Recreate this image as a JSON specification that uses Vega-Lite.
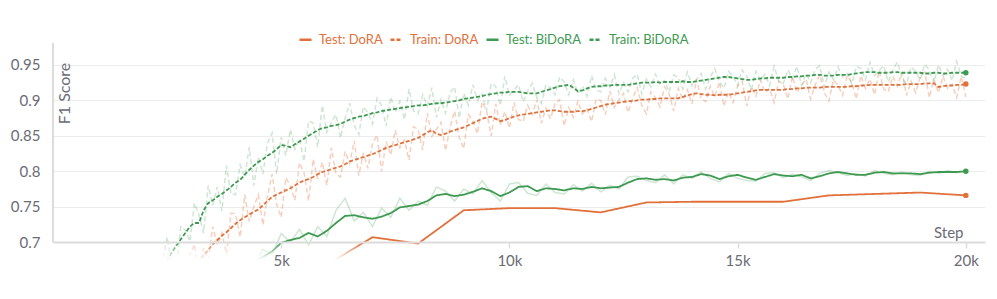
{
"$schema":"https://vega.github.io/schema/vega-lite/v6.json",
"autosize":"none","width":932,"height":219,
"padding":{"left":53,"top":43,"right":12,"bottom":37},
"background":"#ffffff",
"config":{"view":{"stroke":null},"font":"Lato"},
"datasets":{
"train":[
{"step":2200,"sb":0.645,"rb":0.666},
{"step":2300,"sb":0.655,"rb":0.627},
{"step":2400,"sb":0.665,"rb":0.672},
{"step":2500,"sb":0.675,"rb":0.707,"rd":0.622},
{"step":2600,"sb":0.685,"rb":0.671,"sd":0.635,"rd":0.667},
{"step":2700,"sb":0.695,"rb":0.660,"sd":0.645,"rd":0.617},
{"step":2800,"sb":0.704,"rb":0.722,"sd":0.652,"rd":0.659},
{"step":2900,"sb":0.713,"rb":0.717,"sd":0.658,"rd":0.637},
{"step":3000,"sb":0.722,"rb":0.701,"sd":0.664,"rd":0.682},
{"step":3100,"sb":0.727,"rb":0.755,"sd":0.669,"rd":0.697},
{"step":3200,"sb":0.727,"rb":0.738,"sd":0.675,"rd":0.640},
{"step":3300,"sb":0.745,"rb":0.713,"sd":0.681,"rd":0.692},
{"step":3400,"sb":0.755,"rb":0.780,"sd":0.689,"rd":0.675},
{"step":3500,"sb":0.759,"rb":0.752,"sd":0.697,"rd":0.722},
{"step":3600,"sb":0.764,"rb":0.778,"sd":0.703,"rd":0.696},
{"step":3700,"sb":0.768,"rb":0.744,"sd":0.709,"rd":0.713},
{"step":3800,"sb":0.773,"rb":0.808,"sd":0.714,"rd":0.683},
{"step":3900,"sb":0.778,"rb":0.768,"sd":0.720,"rd":0.741},
{"step":4000,"sb":0.784,"rb":0.767,"sd":0.726,"rd":0.740},
{"step":4100,"sb":0.788,"rb":0.809,"sd":0.731,"rd":0.707},
{"step":4200,"sb":0.795,"rb":0.792,"sd":0.735,"rd":0.767},
{"step":4300,"sb":0.802,"rb":0.834,"sd":0.739,"rd":0.729},
{"step":4400,"sb":0.808,"rb":0.780,"sd":0.743,"rd":0.750},
{"step":4500,"sb":0.813,"rb":0.820,"sd":0.746,"rd":0.767},
{"step":4600,"sb":0.817,"rb":0.796,"sd":0.752,"rd":0.724},
{"step":4700,"sb":0.822,"rb":0.840,"sd":0.758,"rd":0.765},
{"step":4800,"sb":0.826,"rb":0.854,"sd":0.764,"rd":0.796},
{"step":4900,"sb":0.831,"rb":0.796,"sd":0.767,"rd":0.753},
{"step":5000,"sb":0.837,"rb":0.848,"sd":0.770,"rd":0.735},
{"step":5100,"sb":0.836,"rb":0.822,"sd":0.773,"rd":0.791},
{"step":5200,"sb":0.834,"rb":0.859,"sd":0.776,"rd":0.780},
{"step":5300,"sb":0.838,"rb":0.831,"sd":0.780,"rd":0.759},
{"step":5400,"sb":0.842,"rb":0.846,"sd":0.784,"rd":0.812},
{"step":5500,"sb":0.846,"rb":0.814,"sd":0.787,"rd":0.798},
{"step":5600,"sb":0.850,"rb":0.871,"sd":0.789,"rd":0.758},
{"step":5700,"sb":0.854,"rb":0.868,"sd":0.792,"rd":0.817},
{"step":5800,"sb":0.858,"rb":0.834,"sd":0.796,"rd":0.789},
{"step":5900,"sb":0.861,"rb":0.893,"sd":0.799,"rd":0.813},
{"step":6000,"sb":0.862,"rb":0.855,"sd":0.801,"rd":0.780},
{"step":6100,"sb":0.864,"rb":0.869,"sd":0.803,"rd":0.833},
{"step":6200,"sb":0.865,"rb":0.880,"sd":0.805,"rd":0.796},
{"step":6300,"sb":0.867,"rb":0.847,"sd":0.807,"rd":0.792},
{"step":6400,"sb":0.870,"rb":0.875,"sd":0.810,"rd":0.828},
{"step":6500,"sb":0.873,"rb":0.896,"sd":0.814,"rd":0.811},
{"step":6600,"sb":0.875,"rb":0.865,"sd":0.816,"rd":0.843},
{"step":6700,"sb":0.877,"rb":0.852,"sd":0.818,"rd":0.794},
{"step":6800,"sb":0.878,"rb":0.891,"sd":0.820,"rd":0.826},
{"step":6900,"sb":0.880,"rb":0.883,"sd":0.822,"rd":0.804},
{"step":7000,"sb":0.882,"rb":0.867,"sd":0.824,"rd":0.839},
{"step":7100,"sb":0.883,"rb":0.903,"sd":0.827,"rd":0.851},
{"step":7200,"sb":0.885,"rb":0.893,"sd":0.830,"rd":0.800},
{"step":7300,"sb":0.886,"rb":0.864,"sd":0.833,"rd":0.842},
{"step":7400,"sb":0.887,"rb":0.905,"sd":0.835,"rd":0.823},
{"step":7500,"sb":0.888,"rb":0.883,"sd":0.837,"rd":0.858},
{"step":7600,"sb":0.889,"rb":0.899,"sd":0.839,"rd":0.833},
{"step":7700,"sb":0.890,"rb":0.873,"sd":0.841,"rd":0.844},
{"step":7800,"sb":0.891,"rb":0.916,"sd":0.843,"rd":0.816},
{"step":7900,"sb":0.892,"rb":0.885,"sd":0.845,"rd":0.863},
{"step":8000,"sb":0.893,"rb":0.881,"sd":0.847,"rd":0.859},
{"step":8100,"sb":0.893,"rb":0.908,"sd":0.851,"rd":0.830},
{"step":8200,"sb":0.894,"rb":0.892,"sd":0.855,"rd":0.882},
{"step":8300,"sb":0.895,"rb":0.918,"sd":0.858,"rd":0.849},
{"step":8400,"sb":0.896,"rb":0.876,"sd":0.853,"rd":0.859},
{"step":8500,"sb":0.896,"rb":0.901,"sd":0.851,"rd":0.869},
{"step":8600,"sb":0.897,"rb":0.882,"sd":0.853,"rd":0.829},
{"step":8700,"sb":0.898,"rb":0.911,"sd":0.856,"rd":0.862},
{"step":8800,"sb":0.899,"rb":0.919,"sd":0.858,"rd":0.885},
{"step":8900,"sb":0.900,"rb":0.875,"sd":0.860,"rd":0.848},
{"step":9000,"sb":0.902,"rb":0.910,"sd":0.862,"rd":0.832},
{"step":9100,"sb":0.903,"rb":0.893,"sd":0.865,"rd":0.880},
{"step":9200,"sb":0.904,"rb":0.922,"sd":0.868,"rd":0.871},
{"step":9300,"sb":0.905,"rb":0.900,"sd":0.871,"rd":0.853},
{"step":9400,"sb":0.906,"rb":0.909,"sd":0.874,"rd":0.898},
{"step":9500,"sb":0.908,"rb":0.886,"sd":0.876,"rd":0.885},
{"step":9600,"sb":0.909,"rb":0.924,"sd":0.877,"rd":0.850},
{"step":9700,"sb":0.910,"rb":0.920,"sd":0.874,"rd":0.895},
{"step":9800,"sb":0.911,"rb":0.893,"sd":0.871,"rd":0.865},
{"step":9900,"sb":0.911,"rb":0.934,"sd":0.872,"rd":0.884},
{"step":10000,"sb":0.912,"rb":0.907,"sd":0.875,"rd":0.861},
{"step":10100,"sb":0.912,"rb":0.915,"sd":0.877,"rd":0.897},
{"step":10200,"sb":0.912,"rb":0.922,"sd":0.879,"rd":0.873},
{"step":10300,"sb":0.911,"rb":0.898,"sd":0.880,"rd":0.870},
{"step":10400,"sb":0.910,"rb":0.913,"sd":0.881,"rd":0.893},
{"step":10500,"sb":0.910,"rb":0.924,"sd":0.882,"rd":0.880},
{"step":10600,"sb":0.910,"rb":0.904,"sd":0.883,"rd":0.901},
{"step":10700,"sb":0.912,"rb":0.896,"sd":0.884,"rd":0.868},
{"step":10800,"sb":0.914,"rb":0.922,"sd":0.885,"rd":0.889},
{"step":10900,"sb":0.916,"rb":0.918,"sd":0.886,"rd":0.874},
{"step":11000,"sb":0.918,"rb":0.908,"sd":0.886,"rd":0.896},
{"step":11100,"sb":0.920,"rb":0.933,"sd":0.885,"rd":0.901},
{"step":11200,"sb":0.921,"rb":0.926,"sd":0.884,"rd":0.864},
{"step":11300,"sb":0.922,"rb":0.908,"sd":0.884,"rd":0.890},
{"step":11400,"sb":0.918,"rb":0.929,"sd":0.884,"rd":0.876},
{"step":11500,"sb":0.913,"rb":0.910,"sd":0.885,"rd":0.899},
{"step":11600,"sb":0.914,"rb":0.920,"sd":0.885,"rd":0.881},
{"step":11700,"sb":0.917,"rb":0.906,"sd":0.886,"rd":0.888},
{"step":11800,"sb":0.919,"rb":0.935,"sd":0.888,"rd":0.870},
{"step":11900,"sb":0.920,"rb":0.915,"sd":0.890,"rd":0.902},
{"step":12000,"sb":0.920,"rb":0.912,"sd":0.892,"rd":0.900},
{"step":12100,"sb":0.921,"rb":0.931,"sd":0.894,"rd":0.880},
{"step":12200,"sb":0.921,"rb":0.919,"sd":0.895,"rd":0.913},
{"step":12300,"sb":0.922,"rb":0.936,"sd":0.896,"rd":0.890},
{"step":12400,"sb":0.922,"rb":0.909,"sd":0.897,"rd":0.901},
{"step":12500,"sb":0.922,"rb":0.925,"sd":0.898,"rd":0.910},
{"step":12600,"sb":0.922,"rb":0.912,"sd":0.899,"rd":0.883},
{"step":12700,"sb":0.923,"rb":0.931,"sd":0.899,"rd":0.903},
{"step":12800,"sb":0.924,"rb":0.937,"sd":0.900,"rd":0.918},
{"step":12900,"sb":0.925,"rb":0.909,"sd":0.901,"rd":0.893},
{"step":13000,"sb":0.925,"rb":0.930,"sd":0.901,"rd":0.881},
{"step":13100,"sb":0.925,"rb":0.919,"sd":0.902,"rd":0.912},
{"step":13200,"sb":0.926,"rb":0.937,"sd":0.902,"rd":0.904},
{"step":13300,"sb":0.925,"rb":0.922,"sd":0.903,"rd":0.891},
{"step":13400,"sb":0.926,"rb":0.928,"sd":0.903,"rd":0.919},
{"step":13500,"sb":0.926,"rb":0.912,"sd":0.903,"rd":0.909},
{"step":13600,"sb":0.926,"rb":0.936,"sd":0.903,"rd":0.885},
{"step":13700,"sb":0.926,"rb":0.932,"sd":0.903,"rd":0.917},
{"step":13800,"sb":0.927,"rb":0.916,"sd":0.905,"rd":0.901},
{"step":13900,"sb":0.926,"rb":0.940,"sd":0.907,"rd":0.915},
{"step":14000,"sb":0.926,"rb":0.921,"sd":0.909,"rd":0.895},
{"step":14100,"sb":0.927,"rb":0.930,"sd":0.910,"rd":0.930},
{"step":14200,"sb":0.928,"rb":0.938,"sd":0.909,"rd":0.903},
{"step":14300,"sb":0.929,"rb":0.916,"sd":0.908,"rd":0.898},
{"step":14400,"sb":0.930,"rb":0.933,"sd":0.908,"rd":0.920},
{"step":14500,"sb":0.931,"rb":0.945,"sd":0.907,"rd":0.905},
{"step":14600,"sb":0.932,"rb":0.926,"sd":0.908,"rd":0.926},
{"step":14700,"sb":0.933,"rb":0.917,"sd":0.908,"rd":0.892},
{"step":14800,"sb":0.933,"rb":0.941,"sd":0.908,"rd":0.912},
{"step":14900,"sb":0.932,"rb":0.934,"sd":0.909,"rd":0.897},
{"step":15000,"sb":0.931,"rb":0.921,"sd":0.910,"rd":0.920},
{"step":15100,"sb":0.930,"rb":0.943,"sd":0.911,"rd":0.927},
{"step":15200,"sb":0.929,"rb":0.934,"sd":0.912,"rd":0.892},
{"step":15300,"sb":0.929,"rb":0.915,"sd":0.913,"rd":0.919},
{"step":15400,"sb":0.930,"rb":0.941,"sd":0.914,"rd":0.906},
{"step":15500,"sb":0.931,"rb":0.928,"sd":0.915,"rd":0.929},
{"step":15600,"sb":0.931,"rb":0.937,"sd":0.915,"rd":0.911},
{"step":15700,"sb":0.932,"rb":0.921,"sd":0.915,"rd":0.917},
{"step":15800,"sb":0.932,"rb":0.948,"sd":0.915,"rd":0.897},
{"step":15900,"sb":0.932,"rb":0.927,"sd":0.915,"rd":0.927},
{"step":16000,"sb":0.932,"rb":0.924,"sd":0.915,"rd":0.923},
{"step":16100,"sb":0.933,"rb":0.943,"sd":0.916,"rd":0.902},
{"step":16200,"sb":0.933,"rb":0.931,"sd":0.916,"rd":0.934},
{"step":16300,"sb":0.934,"rb":0.948,"sd":0.917,"rd":0.911},
{"step":16400,"sb":0.934,"rb":0.921,"sd":0.917,"rd":0.921},
{"step":16500,"sb":0.935,"rb":0.938,"sd":0.918,"rd":0.930},
{"step":16600,"sb":0.935,"rb":0.925,"sd":0.918,"rd":0.902},
{"step":16700,"sb":0.936,"rb":0.944,"sd":0.918,"rd":0.922},
{"step":16800,"sb":0.936,"rb":0.949,"sd":0.918,"rd":0.936},
{"step":16900,"sb":0.935,"rb":0.919,"sd":0.919,"rd":0.911},
{"step":17000,"sb":0.935,"rb":0.940,"sd":0.919,"rd":0.899},
{"step":17100,"sb":0.935,"rb":0.929,"sd":0.919,"rd":0.929},
{"step":17200,"sb":0.936,"rb":0.947,"sd":0.919,"rd":0.921},
{"step":17300,"sb":0.936,"rb":0.933,"sd":0.919,"rd":0.907},
{"step":17400,"sb":0.936,"rb":0.938,"sd":0.919,"rd":0.935},
{"step":17500,"sb":0.937,"rb":0.923,"sd":0.920,"rd":0.926},
{"step":17600,"sb":0.938,"rb":0.948,"sd":0.920,"rd":0.902},
{"step":17700,"sb":0.939,"rb":0.945,"sd":0.921,"rd":0.935},
{"step":17800,"sb":0.940,"rb":0.929,"sd":0.921,"rd":0.917},
{"step":17900,"sb":0.940,"rb":0.954,"sd":0.922,"rd":0.930},
{"step":18000,"sb":0.940,"rb":0.935,"sd":0.922,"rd":0.908},
{"step":18100,"sb":0.939,"rb":0.942,"sd":0.922,"rd":0.942},
{"step":18200,"sb":0.939,"rb":0.949,"sd":0.922,"rd":0.916},
{"step":18300,"sb":0.939,"rb":0.926,"sd":0.922,"rd":0.912},
{"step":18400,"sb":0.940,"rb":0.943,"sd":0.922,"rd":0.934},
{"step":18500,"sb":0.940,"rb":0.954,"sd":0.922,"rd":0.920},
{"step":18600,"sb":0.939,"rb":0.933,"sd":0.922,"rd":0.940},
{"step":18700,"sb":0.939,"rb":0.923,"sd":0.923,"rd":0.907},
{"step":18800,"sb":0.939,"rb":0.947,"sd":0.923,"rd":0.927},
{"step":18900,"sb":0.939,"rb":0.941,"sd":0.923,"rd":0.911},
{"step":19000,"sb":0.939,"rb":0.929,"sd":0.923,"rd":0.933},
{"step":19100,"sb":0.938,"rb":0.951,"sd":0.924,"rd":0.940},
{"step":19200,"sb":0.938,"rb":0.943,"sd":0.924,"rd":0.904},
{"step":19300,"sb":0.939,"rb":0.925,"sd":0.924,"rd":0.930},
{"step":19400,"sb":0.939,"rb":0.950,"sd":0.919,"rd":0.911},
{"step":19500,"sb":0.938,"rb":0.935,"sd":0.920,"rd":0.934},
{"step":19600,"sb":0.938,"rb":0.944,"sd":0.921,"rd":0.917},
{"step":19700,"sb":0.939,"rb":0.928,"sd":0.921,"rd":0.923},
{"step":19800,"sb":0.939,"rb":0.955,"sd":0.922,"rd":0.904},
{"step":19900,"sb":0.939,"rb":0.934,"sd":0.922,"rd":0.934},
{"step":20000,"sb":0.939,"rb":0.931,"sd":0.923,"rd":0.905}
],
"testb":[
{"step":4400,"tb":0.672,"rtb":0.668},{"step":4600,"tb":0.679,"rtb":0.690},{"step":4800,"tb":0.687,"rtb":0.682},
{"step":5000,"tb":0.699,"rtb":0.712},{"step":5200,"tb":0.703,"rtb":0.700},{"step":5400,"tb":0.706,"rtb":0.718},
{"step":5600,"tb":0.713,"rtb":0.696},{"step":5800,"tb":0.708,"rtb":0.722},{"step":6000,"tb":0.716,"rtb":0.708},
{"step":6200,"tb":0.727,"rtb":0.745},{"step":6400,"tb":0.737,"rtb":0.762},{"step":6600,"tb":0.738,"rtb":0.730},
{"step":6800,"tb":0.735,"rtb":0.742},{"step":7000,"tb":0.733,"rtb":0.722},{"step":7200,"tb":0.736,"rtb":0.748},
{"step":7400,"tb":0.741,"rtb":0.735},{"step":7600,"tb":0.749,"rtb":0.762},{"step":7800,"tb":0.751,"rtb":0.745},
{"step":8000,"tb":0.753,"rtb":0.758},{"step":8200,"tb":0.758,"rtb":0.752},{"step":8400,"tb":0.766,"rtb":0.778},
{"step":8600,"tb":0.768,"rtb":0.772},{"step":8800,"tb":0.765,"rtb":0.758},{"step":9000,"tb":0.767,"rtb":0.775},
{"step":9200,"tb":0.771,"rtb":0.768},{"step":9400,"tb":0.776,"rtb":0.787},{"step":9600,"tb":0.772,"rtb":0.770},
{"step":9800,"tb":0.765,"rtb":0.758},{"step":10000,"tb":0.770,"rtb":0.782},{"step":10200,"tb":0.778,"rtb":0.784},
{"step":10400,"tb":0.779,"rtb":0.769},{"step":10600,"tb":0.772,"rtb":0.766},{"step":10800,"tb":0.776,"rtb":0.782},
{"step":11000,"tb":0.775,"rtb":0.770},{"step":11200,"tb":0.773,"rtb":0.768},{"step":11400,"tb":0.776,"rtb":0.781},
{"step":11600,"tb":0.775,"rtb":0.772},{"step":11800,"tb":0.778,"rtb":0.783},{"step":12000,"tb":0.776,"rtb":0.771},
{"step":12200,"tb":0.777,"rtb":0.780},{"step":12400,"tb":0.778,"rtb":0.775},{"step":12600,"tb":0.784,"rtb":0.792},
{"step":12800,"tb":0.789,"rtb":0.793},{"step":13000,"tb":0.790,"rtb":0.787},{"step":13200,"tb":0.788,"rtb":0.784},
{"step":13400,"tb":0.789,"rtb":0.795},{"step":13600,"tb":0.787,"rtb":0.782},{"step":13800,"tb":0.791,"rtb":0.795},
{"step":14000,"tb":0.792,"rtb":0.790},{"step":14200,"tb":0.796,"rtb":0.799},{"step":14400,"tb":0.794,"rtb":0.790},
{"step":14600,"tb":0.789,"rtb":0.785},{"step":14800,"tb":0.793,"rtb":0.797},{"step":15000,"tb":0.795,"rtb":0.790},
{"step":15200,"tb":0.791,"rtb":0.787},{"step":15400,"tb":0.788,"rtb":0.786},{"step":15600,"tb":0.792,"rtb":0.797},
{"step":15800,"tb":0.796,"rtb":0.798},{"step":16000,"tb":0.794,"rtb":0.791},{"step":16200,"tb":0.793,"rtb":0.796},
{"step":16400,"tb":0.795,"rtb":0.792},{"step":16600,"tb":0.790,"rtb":0.787},{"step":16800,"tb":0.793,"rtb":0.797},
{"step":17000,"tb":0.797,"rtb":0.801},{"step":17200,"tb":0.799,"rtb":0.798},{"step":17400,"tb":0.797,"rtb":0.794},
{"step":17600,"tb":0.795,"rtb":0.797},{"step":17800,"tb":0.795,"rtb":0.793},{"step":18000,"tb":0.798,"rtb":0.801},
{"step":18200,"tb":0.799,"rtb":0.797},{"step":18400,"tb":0.797,"rtb":0.795},{"step":18600,"tb":0.797,"rtb":0.799},
{"step":18800,"tb":0.797,"rtb":0.795},{"step":19000,"tb":0.796,"rtb":0.794},{"step":19200,"tb":0.798,"rtb":0.800},
{"step":19400,"tb":0.799,"rtb":0.797},{"step":19600,"tb":0.799,"rtb":0.801},{"step":19800,"tb":0.799,"rtb":0.798},
{"step":20000,"tb":0.800,"rtb":0.800}
],
"testd":[
{"step":5000,"td":0.62},{"step":6000,"td":0.668},{"step":7000,"td":0.707},{"step":8000,"td":0.698},
{"step":9000,"td":0.745},{"step":10000,"td":0.748},{"step":11000,"td":0.748},{"step":12000,"td":0.742},
{"step":13000,"td":0.756},{"step":14000,"td":0.757},{"step":15000,"td":0.757},{"step":16000,"td":0.757},
{"step":17000,"td":0.766},{"step":18000,"td":0.768},{"step":19000,"td":0.770},{"step":20000,"td":0.766}
]
},
"layer":[
{"data":{"name":"train"},"mark":{"type":"line","clip":true,"color":"#e2703a","opacity":0.33,"strokeWidth":1.5,"strokeDash":[5,3]},
 "encoding":{"x":{"field":"step","type":"quantitative","scale":{"domain":[0,20420],"nice":false},
   "axis":{"orient":"bottom","offset":-20,"values":[5000,10000,15000,20000],"format":"~s","grid":false,"domainColor":"#dcdcdc","domainWidth":2,"tickColor":"#dcdcdc","tickSize":6,"tickWidth":1.5,"labelPadding":5,"labelFontSize":15,"labelColor":"#6b6b76","title":"Step","titleFontSize":15,"titleFontWeight":"normal","titleColor":"#6b6b76","titleAlign":"right","titleBaseline":"middle","titleX":910,"titleY":-10,"zindex":1}},
   "y":{"field":"rd","type":"quantitative","scale":{"domain":[0.672,0.981],"nice":false,"zero":false},
   "axis":{"values":[0.7,0.75,0.8,0.85,0.9,0.95],"format":"~g","grid":true,"gridColor":"#ececec","gridWidth":1,"domain":false,"ticks":false,"labelPadding":13,"labelFontSize":15,"labelColor":"#6b6b76","title":"F1 Score","titleFontSize":16,"titleFontWeight":"normal","titleColor":"#6b6b76","titleAngle":-90,"titleAlign":"center","titleBaseline":"middle","titleX":11,"titleY":50}}}},
{"data":{"name":"train"},"mark":{"type":"line","clip":true,"color":"#3d9a50","opacity":0.25,"strokeWidth":1.5,"strokeDash":[5,3]},
 "encoding":{"x":{"field":"step","type":"quantitative"},"y":{"field":"rb","type":"quantitative"}}},
{"data":{"name":"testb"},"mark":{"type":"line","clip":true,"color":"#3d9a50","opacity":0.25,"strokeWidth":1.5},
 "encoding":{"x":{"field":"step","type":"quantitative"},"y":{"field":"rtb","type":"quantitative"}}},
{"data":{"name":"train"},"transform":[{"fold":["sd","sb"],"as":["k","v"]}],
 "layer":[
  {"mark":{"type":"line","clip":true,"strokeWidth":1.8},
   "encoding":{"x":{"field":"step","type":"quantitative"},"y":{"field":"v","type":"quantitative"},
    "color":{"field":"k","type":"nominal","scale":{"domain":["td","sd","tb","sb"],"range":["#e2703a","#e2703a","#3d9a50","#3d9a50"]},
     "legend":{"orient":"none","legendX":245,"legendY":-11,"direction":"horizontal","title":null,"symbolType":"stroke","symbolSize":144,"symbolStrokeWidth":2.5,"labelFontSize":13,"labelOffset":6,"columnPadding":2,"padding":0,
      "labelExpr":"datum.label == 'td' ? 'Test: DoRA' : datum.label == 'sd' ? 'Train: DoRA' : datum.label == 'tb' ? 'Test: BiDoRA' : 'Train: BiDoRA'",
      "encode":{"labels":{"update":{"fill":{"scale":"color","field":"value"}}}}}},
    "strokeDash":{"field":"k","type":"nominal","scale":{"domain":["td","sd","tb","sb"],"range":[[1,0],[4,2],[1,0],[4,2]]}}}},
  {"transform":[{"filter":"datum.step == 20000"}],"mark":{"type":"point","filled":true,"size":30,"opacity":1},
   "encoding":{"x":{"field":"step","type":"quantitative"},"y":{"field":"v","type":"quantitative"},"color":{"field":"k","type":"nominal"}}}
 ]},
{"data":{"name":"testb"},"transform":[{"fold":["tb"],"as":["k","v"]}],
 "layer":[
  {"mark":{"type":"line","clip":true,"strokeWidth":1.8},
   "encoding":{"x":{"field":"step","type":"quantitative"},"y":{"field":"v","type":"quantitative"},"color":{"field":"k","type":"nominal"},"strokeDash":{"field":"k","type":"nominal"}}},
  {"transform":[{"filter":"datum.step == 20000"}],"mark":{"type":"point","filled":true,"size":30,"opacity":1},
   "encoding":{"x":{"field":"step","type":"quantitative"},"y":{"field":"v","type":"quantitative"},"color":{"field":"k","type":"nominal"}}}
 ]},
{"data":{"name":"testd"},"transform":[{"fold":["td"],"as":["k","v"]}],
 "layer":[
  {"mark":{"type":"line","clip":true,"strokeWidth":1.8},
   "encoding":{"x":{"field":"step","type":"quantitative"},"y":{"field":"v","type":"quantitative"},"color":{"field":"k","type":"nominal"},"strokeDash":{"field":"k","type":"nominal"}}},
  {"transform":[{"filter":"datum.step == 20000"}],"mark":{"type":"point","filled":true,"size":30,"opacity":1},
   "encoding":{"x":{"field":"step","type":"quantitative"},"y":{"field":"v","type":"quantitative"},"color":{"field":"k","type":"nominal"}}}
 ]},
{"data":{"values":[{}]},"mark":{"type":"rect","fill":{"gradient":"linear","x1":0,"y1":0,"x2":0,"y2":1,"stops":[{"offset":0,"color":"rgba(255,255,255,0)"},{"offset":0.9,"color":"#ffffff"},{"offset":1,"color":"#ffffff"}]}},
 "encoding":{"x":{"datum":0,"type":"quantitative"},"x2":{"datum":20420},"y":{"datum":0.7,"type":"quantitative"},"y2":{"datum":0.672}}},
{"data":{"values":[{}]},"mark":{"type":"rule","color":"#dcdcdc","strokeWidth":2},
 "encoding":{"x":{"datum":0,"type":"quantitative"},"y":{"datum":0.7,"type":"quantitative"},"y2":{"datum":0.981}}}
]
}
